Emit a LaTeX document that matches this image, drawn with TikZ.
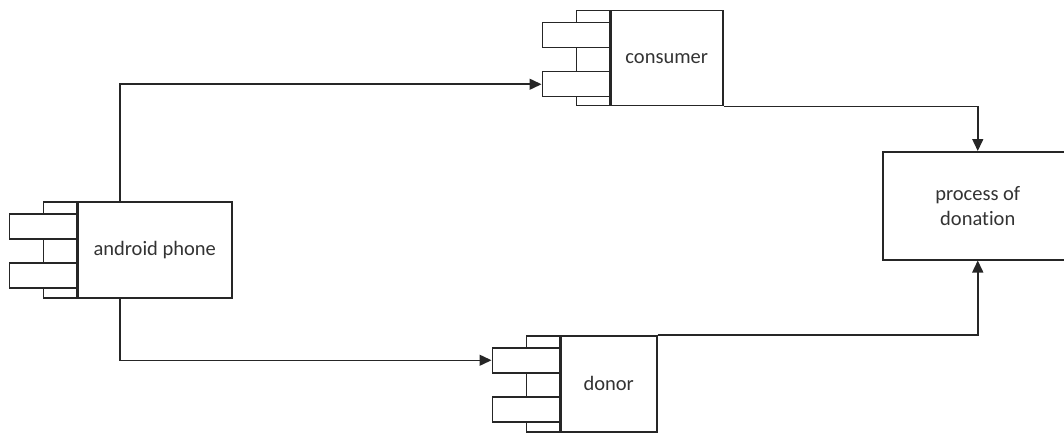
\documentclass[tikz,border=0pt]{standalone}
\usepackage{fontspec}
\setmainfont{Carlito}[Ligatures=CommonOff]
\usetikzlibrary{positioning,arrows.meta,calc}

% component block: main box, strip on its left and two tabs
\newcommand{\comp}[6]{%
  \node[part, minimum width=33, minimum height=#5, anchor=north east] (#1-s) at (#2,#3) {};
  \node[part, minimum width=#4, minimum height=#5, anchor=north west] (#1) at (#2,#3) {#6};
  \node[part, minimum width=67, minimum height=25, anchor=north east] (#1-t1) at ($(#1.north west)+(0,12)$) {};
  \node[part, minimum width=67, minimum height=25, anchor=north east] (#1-t2) at ($(#1.north west)+(0,61)$) {};
}

\begin{document}
\begin{tikzpicture}[x=1pt, y=-1pt, font=\fontsize{20.5}{25}\selectfont,
    part/.style={draw=black!85, fill=white, line width=1.5pt, inner sep=0pt, text=black!80},
    arr/.style={draw=black!85, line width=1.5pt, -{Triangle[length=12pt,width=11pt]}}]
  \useasboundingbox (0,0) rectangle (1064,433);
  \clip (0,0) rectangle (1064,433);
  \comp{android}{77}{201}{154}{96}{android phone}
  \comp{consumer}{610}{10}{112}{95}{consumer}
  \comp{donor}{560}{335}{96}{96}{donor}
  \node[part, minimum width=190, minimum height=108, anchor=north west, align=center] (process) at (882,151) {process of\\donation};
  \draw[arr] ([xshift=43]android.north west) |- (consumer-t2.west);
  \draw[arr] ([xshift=43]android.south west) |- (donor-t1.west);
  \draw[arr] (consumer.south east) -| (process.north);
  \draw[arr] (donor.north east) -| (process.south);
\end{tikzpicture}
\end{document}
